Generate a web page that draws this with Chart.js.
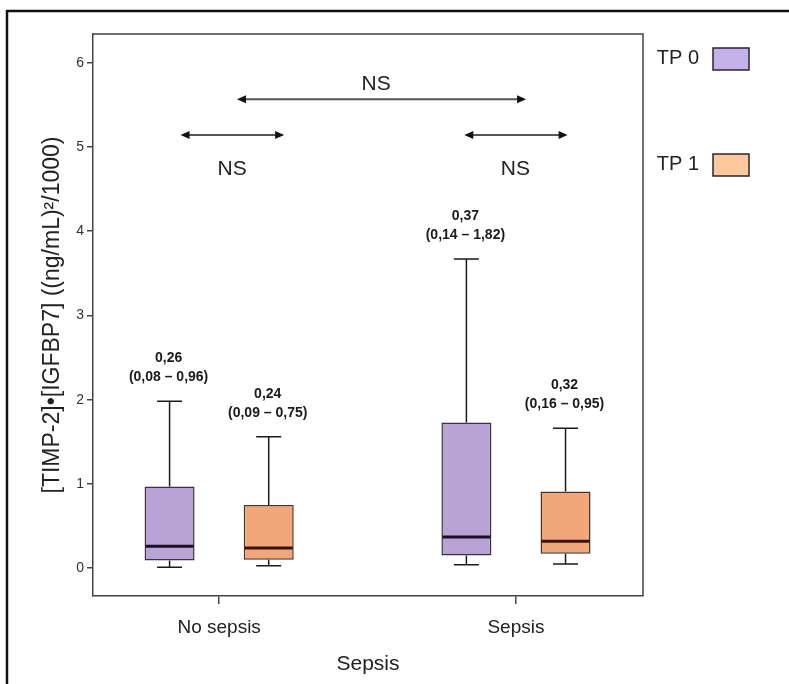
<!DOCTYPE html>
<html>
<head>
<meta charset="utf-8">
<script src="https://cdn.jsdelivr.net/npm/chart.js@4.4.1/dist/chart.umd.min.js"></script>
<style>
  html, body { margin: 0; padding: 0; background: #fff; }
  #wrap { width: 789px; height: 684px; position: relative; }
</style>
</head>
<body>
<div id="wrap"><canvas id="boxChart"></canvas></div>
<script>
// groups on the x axis
const categories = ['No sepsis', 'Sepsis'];
const seriesNames = ['TP 0', 'TP 1'];

// TP 0 boxes
const tp0Min = [0.01, 0.04];
const tp0Q1 = [0.09, 0.15];
const tp0Median = [0.26, 0.37];
const tp0Q3 = [0.97, 1.73];
const tp0Max = [1.98, 3.67];

// TP 1 boxes
const tp1Min = [0.03, 0.05];
const tp1Q1 = [0.10, 0.17];
const tp1Median = [0.24, 0.32];
const tp1Q3 = [0.75, 0.91];
const tp1Max = [1.56, 1.66];

// printed median (IQR) above each box
const tp0Labels = [['0,26', '(0,08 – 0,96)'], ['0,37', '(0,14 – 1,82)']];
const tp1Labels = [['0,24', '(0,09 – 0,75)'], ['0,32', '(0,16 – 0,95)']];

const yTicks = [0, 1, 2, 3, 4, 5, 6];

// NS comparisons: arrow from / to (x units), arrow level, text position
const compFrom = [-0.13, 0.826, 0.06];
const compTo = [0.219, 1.174, 1.034];
const compY = [5.14, 5.14, 5.567];
const compTextX = [0.044, 0.998, 0.529];
const compTextY = [4.74, 4.73, 5.75];

const FONT = "'Liberation Sans', Arial, sans-serif";
Chart.defaults.font.family = FONT;

const groupShift = 0.167; // TP 0 left of the tick, TP 1 right of it

function boxData(q1, q3, side) {
  return categories.map((c, i) => ({ x: i + side * groupShift, y: [q1[i], q3[i]] }));
}

const boxExtras = {
  id: 'boxExtras',
  beforeDraw(chart) {
    // outer figure frame
    const ctx = chart.ctx;
    ctx.save();
    ctx.strokeStyle = '#111';
    ctx.lineWidth = 2.5;
    ctx.beginPath();
    ctx.moveTo(7, chart.height);
    ctx.lineTo(7, 11);
    ctx.lineTo(chart.width, 11);
    ctx.stroke();
    ctx.restore();
  },
  afterDatasetsDraw(chart) {
    const { ctx, chartArea: a, scales: { x, y } } = chart;
    ctx.save();

    // top and right of the plot frame
    ctx.strokeStyle = '#444';
    ctx.lineWidth = 1.5;
    ctx.beginPath();
    ctx.moveTo(a.left, a.top);
    ctx.lineTo(a.right, a.top);
    ctx.lineTo(a.right, a.bottom);
    ctx.stroke();

    chart.data.datasets.forEach((ds, di) => {
      const meta = chart.getDatasetMeta(di);
      meta.data.forEach((bar, i) => {
        const cx = bar.x;
        const half = bar.width / 2;
        const pMin = y.getPixelForValue(ds.whiskerMin[i]);
        const pMax = y.getPixelForValue(ds.whiskerMax[i]);
        const pMed = y.getPixelForValue(ds.median[i]);
        const pQ1 = y.getPixelForValue(ds.data[i].y[0]);
        const pQ3 = y.getPixelForValue(ds.data[i].y[1]);

        ctx.strokeStyle = '#1a1a1a';
        ctx.lineWidth = 1.5;
        ctx.beginPath();
        ctx.moveTo(cx, pQ3); ctx.lineTo(cx, pMax);
        ctx.moveTo(cx - half / 2, pMax); ctx.lineTo(cx + half / 2, pMax);
        ctx.moveTo(cx, pQ1); ctx.lineTo(cx, pMin);
        ctx.moveTo(cx - half / 2, pMin); ctx.lineTo(cx + half / 2, pMin);
        ctx.stroke();

        ctx.strokeStyle = ds.medianColor;
        ctx.lineWidth = 3;
        ctx.beginPath();
        ctx.moveTo(cx - half + 1, pMed);
        ctx.lineTo(cx + half - 1, pMed);
        ctx.stroke();

        // value text
        ctx.fillStyle = '#1a1a1a';
        ctx.font = 'bold 14px ' + FONT;
        ctx.textAlign = 'center';
        ctx.textBaseline = 'middle';
        const lines = ds.valueLabels[i];
        ctx.fillText(lines[0], cx - 1, pMax - 43);
        ctx.fillText(lines[1], cx - 1, pMax - 24);
      });
    });

    // NS arrows
    compFrom.forEach((from, k) => {
      const x1 = x.getPixelForValue(from);
      const x2 = x.getPixelForValue(compTo[k]);
      const yy = y.getPixelForValue(compY[k]);
      ctx.strokeStyle = '#555';
      ctx.lineWidth = 2;
      ctx.beginPath();
      ctx.moveTo(x1 + 6, yy);
      ctx.lineTo(x2 - 6, yy);
      ctx.stroke();
      ctx.fillStyle = '#111';
      ctx.beginPath();
      ctx.moveTo(x1, yy); ctx.lineTo(x1 + 9, yy - 4); ctx.lineTo(x1 + 9, yy + 4); ctx.closePath();
      ctx.moveTo(x2, yy); ctx.lineTo(x2 - 9, yy - 4); ctx.lineTo(x2 - 9, yy + 4); ctx.closePath();
      ctx.fill();

      ctx.fillStyle = '#222';
      ctx.font = '21px ' + FONT;
      ctx.textAlign = 'center';
      ctx.textBaseline = 'middle';
      ctx.fillText('NS', x.getPixelForValue(compTextX[k]), y.getPixelForValue(compTextY[k]));
    });

    // legend at the right
    const swatchTop = [48, 154];
    chart.data.datasets.forEach((ds, di) => {
      const top = swatchTop[di];
      ctx.fillStyle = ds.legendColor;
      ctx.fillRect(713, top, 36, 22);
      ctx.strokeStyle = '#2a2430';
      ctx.lineWidth = 1.5;
      ctx.strokeRect(713, top, 36, 22);
      ctx.fillStyle = '#222';
      ctx.font = '20px ' + FONT;
      ctx.textAlign = 'right';
      ctx.textBaseline = 'middle';
      ctx.fillText(ds.label, 699, top + 10);
    });

    ctx.restore();
  }
};

new Chart(document.getElementById('boxChart'), {
  type: 'bar',
  data: {
    datasets: [
      {
        label: seriesNames[0],
        data: boxData(tp0Q1, tp0Q3, -1),
        median: tp0Median,
        whiskerMin: tp0Min,
        whiskerMax: tp0Max,
        valueLabels: tp0Labels,
        backgroundColor: '#b9a3d4',
        borderColor: '#3a3242',
        borderWidth: 1.5,
        borderSkipped: false,
        maxBarThickness: 50,
        grouped: false,
        medianColor: '#1c0f26',
        legendColor: '#c5b2ea'
      },
      {
        label: seriesNames[1],
        data: boxData(tp1Q1, tp1Q3, 1),
        median: tp1Median,
        whiskerMin: tp1Min,
        whiskerMax: tp1Max,
        valueLabels: tp1Labels,
        backgroundColor: '#f2a77a',
        borderColor: '#4a3328',
        borderWidth: 1.5,
        borderSkipped: false,
        maxBarThickness: 50,
        grouped: false,
        medianColor: '#3a1205',
        legendColor: '#fdc89c'
      }
    ]
  },
  options: {
    responsive: true,
    maintainAspectRatio: false,
    animation: false,
    events: [],
    layout: { padding: { top: 34, right: 146, left: 0, bottom: 0 } },
    plugins: {
      legend: { display: false },
      tooltip: { enabled: false }
    },
    scales: {
      x: {
        type: 'linear',
        min: -0.425,
        max: 1.428,
        offset: false,
        afterBuildTicks: s => { s.ticks = categories.map((c, i) => ({ value: i })); },
        afterFit: s => { s.height = 88; },
        ticks: {
          callback: v => categories[v],
          font: { size: 19 },
          color: '#222',
          padding: 12
        },
        grid: { drawOnChartArea: false, offset: false, tickLength: 8, color: '#444', lineWidth: 1.5 },
        border: { color: '#444', width: 1.5 },
        title: {
          display: true,
          text: 'Sepsis',
          font: { size: 21 },
          color: '#222',
          padding: { top: 0, bottom: 7 }
        }
      },
      y: {
        min: -0.33,
        max: 6.34,
        afterBuildTicks: s => { s.ticks = yTicks.map(v => ({ value: v })); },
        afterFit: s => { s.width = 93; },
        ticks: { font: { size: 14 }, color: '#333', padding: 3 },
        grid: { drawOnChartArea: false, tickLength: 6, color: '#444', lineWidth: 1.5 },
        border: { color: '#444', width: 1.5 },
        title: {
          display: true,
          text: '[TIMP-2]•[IGFBP7] ((ng/mL)²/1000)',
          font: { size: 23 },
          color: '#222',
          padding: { top: 39, bottom: 0 }
        }
      }
    }
  },
  plugins: [boxExtras]
});
</script>
</body>
</html>
